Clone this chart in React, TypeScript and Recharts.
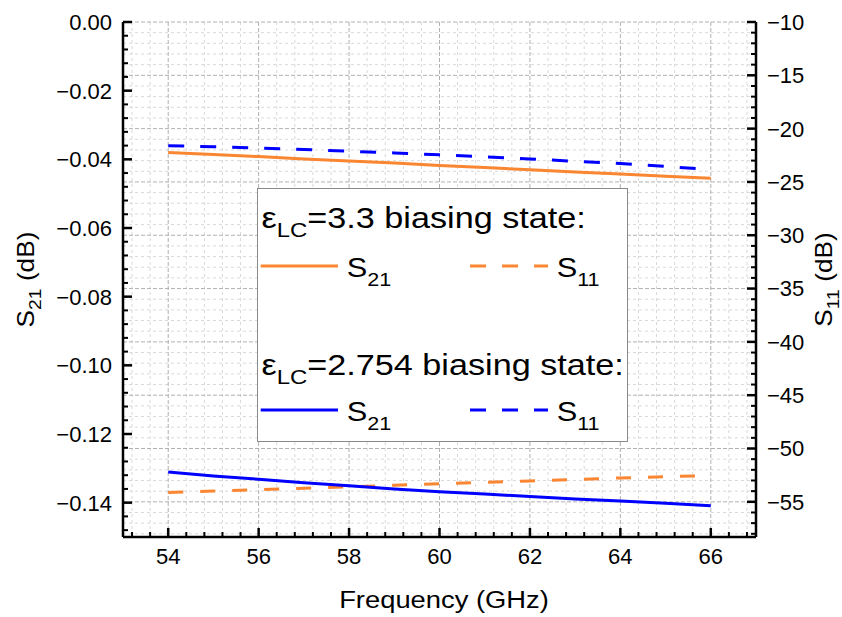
import { CartesianGrid, ComposedChart, Legend, Line, XAxis, YAxis } from "recharts";

const freq = [54, 55, 56, 57, 58, 59, 60, 61, 62, 63, 64, 65, 66];
// eps_LC = 3.3
const s21Lc33 = [-0.038, -0.0386, -0.0392, -0.0399, -0.0405, -0.0411, -0.0418, -0.0424, -0.043, -0.0437, -0.0443, -0.0449, -0.0455];
const s11Lc33 = [-54.13, -53.99, -53.86, -53.73, -53.59, -53.45, -53.31, -53.17, -53.04, -52.9, -52.76, -52.64, -52.54];
// eps_LC = 2.754
const s21Lc2754 = [-0.1311, -0.1322, -0.1332, -0.1342, -0.1351, -0.136, -0.1368, -0.1375, -0.1382, -0.1389, -0.1395, -0.1402, -0.1409];
const s11Lc2754 = [-21.6, -21.7, -21.82, -21.96, -22.12, -22.28, -22.46, -22.65, -22.85, -23.06, -23.28, -23.55, -23.84];

const xTicks = [54, 56, 58, 60, 62, 64, 66];
const s21Ticks = [0, -0.02, -0.04, -0.06, -0.08, -0.1, -0.12, -0.14];
const s11Ticks = [-10, -15, -20, -25, -30, -35, -40, -45, -50, -55];

const ORANGE = "#FA8632";
const BLUE = "#0000FF";
const FONT = "'Liberation Sans', Arial, sans-serif";
const STRETCH = 1.14; // the source font runs wider than Liberation Sans
const TICK_FONT = 22;

function steps(from: number, to: number, step: number) {
  const out: number[] = [];
  const n = Math.round((to - from) / step);
  for (let i = 0; i <= n; i++) out.push(Math.round((from + i * step) * 10000) / 10000);
  return out;
}
const isIn = (v: number, list: number[]) => list.some((m) => Math.abs(m - v) < 1e-6);

const xAll = steps(53.2, 66.8, 0.4);
const xMinor = xAll.filter((v) => !isIn(v, xTicks));
const s21All = steps(-0.148, -0.004, 0.004).concat([0]);
const s11All = steps(-58, -11, 1).concat([-10]);
const s11Minor = s11All.filter((v) => !isIn(v, s11Ticks));

const data = freq.map((f, i) => ({
  f,
  s21a: s21Lc33[i],
  s11a: s11Lc33[i],
  s21b: s21Lc2754[i],
  s11b: s11Lc2754[i],
}));

const minus = (v: number, d: number) => (v === 0 ? v.toFixed(d) : "\u2212" + Math.abs(v).toFixed(d));

const xTick = (dir: number, labels: boolean) => (p: any) => {
  const v = p.payload.value;
  const major = isIn(v, xTicks);
  return (
    <g>
      <line x1={p.x} x2={p.x} y1={p.y} y2={p.y - dir * (major ? 9 : 5)} stroke="#000" strokeWidth={major ? 2.5 : 2} />
      {labels && major && (
        <text x={p.x} y={p.y + 27} textAnchor="middle" fontSize={TICK_FONT} fontFamily={FONT} fill="#000">
          {v}
        </text>
      )}
    </g>
  );
};

const yTick = (dir: number, majors: number[], fmt: (v: number) => string) => (p: any) => {
  const v = p.payload.value;
  const major = isIn(v, majors);
  return (
    <g>
      <line x1={p.x} x2={p.x + dir * (major ? 9 : 5)} y1={p.y} y2={p.y} stroke="#000" strokeWidth={major ? 2.5 : 2} />
      {major && (
        <text
          x={p.x - dir * 11}
          y={p.y}
          dy="0.36em"
          textAnchor={dir > 0 ? "end" : "start"}
          fontSize={TICK_FONT}
          fontFamily={FONT}
          fill="#000"
        >
          {fmt(v)}
        </text>
      )}
    </g>
  );
};

const yTitle = (bx: number, sub: string) => (p: any) => {
  const cy = p.viewBox.y + p.viewBox.height / 2;
  return (
    <text
      transform={`translate(${bx} ${cy}) rotate(-90) scale(${STRETCH} 1)`}
      textAnchor="middle"
      fontSize={23}
      fontFamily={FONT}
      fill="#000"
    >
      <tspan>S</tspan>
      <tspan dy={7} fontSize={17}>{sub}</tspan>
      <tspan dy={-7}> (dB)</tspan>
    </text>
  );
};

const legendRows = [
  { title: "=3.3 biasing state:", color: ORANGE },
  { title: "=2.754 biasing state:", color: BLUE },
];

function LegendBox() {
  const txt = (x: number, y: number, size: number, main: string, sub: string, rest: string, subDy: number) => (
    <text transform={`translate(${x} ${y}) scale(${STRETCH} 1)`} fontSize={size} fontFamily={FONT} fill="#000">
      <tspan>{main}</tspan>
      <tspan dy={subDy} fontSize={size * 0.7}>{sub}</tspan>
      <tspan dy={-subDy}>{rest}</tspan>
    </text>
  );
  return (
    <svg width={371} height={254} style={{ display: "block" }}>
      <rect x={0.5} y={0.5} width={370} height={253} fill="#fff" stroke="#8a8a8a" strokeWidth={1} />
      {legendRows.map((r, i) => {
        const hy = 40.3 + i * 146.5;
        const ly = 78 + i * 144;
        return (
          <g key={i}>
            {txt(4.5, hy, 30, "ε", "LC", r.title, 9)}
            <line x1={3.7} x2={81} y1={ly} y2={ly} stroke={r.color} strokeWidth={3} />
            <line x1={213} x2={291} y1={ly} y2={ly} stroke={r.color} strokeWidth={3} strokeDasharray="16 16" />
            {txt(89.7, ly + 10.7, 27, "S", "21", "", 9)}
            {txt(299.7, ly + 10.7, 27, "S", "11", "", 9)}
          </g>
        );
      })}
    </svg>
  );
}

export default function App() {
  return (
    <div style={{ position: "absolute", left: 0, top: 0 }}>
      <ComposedChart width={842} height={617} data={data} margin={{ top: 22, right: 0, bottom: 0, left: 0 }}>
        <CartesianGrid
          xAxisId="bottom"
          yAxisId="right"
          verticalValues={xMinor}
          horizontalValues={s11Minor}
          stroke="#d9d9d9"
          strokeDasharray="3 3"
        />
        <CartesianGrid
          xAxisId="bottom"
          yAxisId="right"
          verticalValues={xTicks}
          horizontalValues={s11Ticks}
          stroke="#b0b0b0"
          strokeDasharray="4 2"
        />
        <XAxis
          xAxisId="bottom"
          dataKey="f"
          type="number"
          domain={[53, 67]}
          ticks={xAll}
          interval={0}
          height={80}
          tickSize={0}
          tickMargin={0}
          tickLine={false}
          axisLine={{ stroke: "#000", strokeWidth: 2.5 }}
          tick={xTick(1, true)}
          label={{
            content: (p: any) => (
              <text
                transform={`translate(444 ${p.viewBox.y + 71}) scale(${STRETCH} 1)`}
                textAnchor="middle"
                fontSize={24}
                fontFamily={FONT}
                fill="#000"
              >
                Frequency (GHz)
              </text>
            ),
          }}
        />
        <XAxis
          xAxisId="top"
          orientation="top"
          type="number"
          domain={[53, 67]}
          ticks={xAll}
          interval={0}
          height={0}
          tickSize={0}
          tickMargin={0}
          tickLine={false}
          axisLine={{ stroke: "#000", strokeWidth: 2.5 }}
          tick={xTick(-1, false)}
        />
        <YAxis
          yAxisId="left"
          type="number"
          domain={[-0.15, 0]}
          ticks={s21All}
          interval={0}
          width={123}
          tickSize={0}
          tickMargin={0}
          tickLine={false}
          axisLine={{ stroke: "#000", strokeWidth: 2.5 }}
          tick={yTick(1, s21Ticks, (v) => minus(v, 2))}
          label={{ content: yTitle(33.5, "21") }}
        />
        <YAxis
          yAxisId="right"
          orientation="right"
          type="number"
          domain={[-58.3, -10]}
          ticks={s11All}
          interval={0}
          width={86}
          tickSize={0}
          tickMargin={0}
          tickLine={false}
          axisLine={{ stroke: "#000", strokeWidth: 2.5 }}
          tick={yTick(-1, s11Ticks, (v) => minus(v, 0))}
          label={{ content: yTitle(831.7, "11") }}
        />
        <Line xAxisId="bottom" yAxisId="left" dataKey="s21a" stroke={ORANGE} strokeWidth={3} dot={false} isAnimationActive={false} />
        <Line xAxisId="bottom" yAxisId="right" dataKey="s11a" stroke={ORANGE} strokeWidth={3} strokeDasharray="15 17" dot={false} isAnimationActive={false} />
        <Line xAxisId="bottom" yAxisId="left" dataKey="s21b" stroke={BLUE} strokeWidth={3} dot={false} isAnimationActive={false} />
        <Line xAxisId="bottom" yAxisId="right" dataKey="s11b" stroke={BLUE} strokeWidth={3} strokeDasharray="16 16" dot={false} isAnimationActive={false} />
        <Legend
          layout="horizontal"
          align="center"
          verticalAlign="middle"
          wrapperStyle={{ left: 257, top: 188, width: 371, height: 254 }}
          content={() => <LegendBox />}
        />
      </ComposedChart>
    </div>
  );
}
